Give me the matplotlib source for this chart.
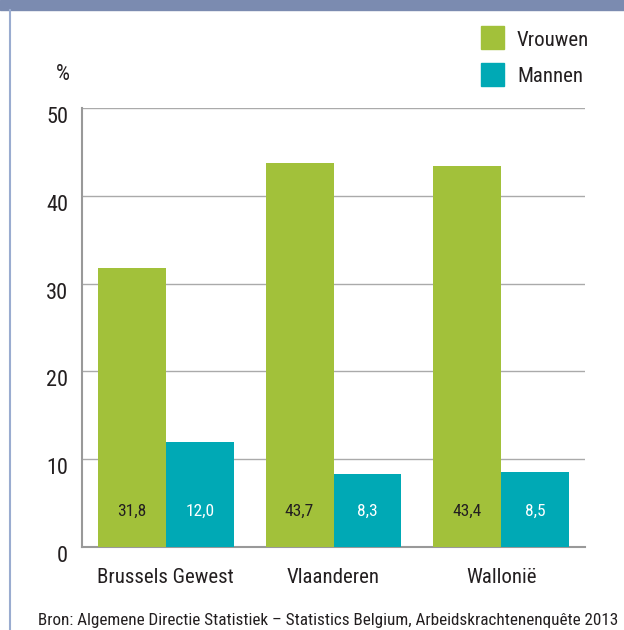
import matplotlib.pyplot as plt
import matplotlib.patches as mpatches
import matplotlib.transforms as mtransforms
import numpy as np

plt.rcParams['font.family'] = ['Liberation Sans Narrow', 'Roboto Condensed', 'Open Sans Condensed',
                               'DejaVu Sans']
plt.rcParams['font.stretch'] = 'condensed'

# data
regions = ["Brussels Gewest", "Vlaanderen", "Wallonië"]
vrouwen = [31.8, 43.7, 43.4]
mannen = [12.0, 8.3, 8.5]
yticks = [0, 10, 20, 30, 40, 50]

GREEN = "#A2C13A"
TEAL = "#00A9B5"
TXT = "#231F20"
W, H = 624, 630

fig = plt.figure(figsize=(W / 100, H / 100), dpi=100)

# page frame: banner on top, thin line on the left
fig.patches.append(mpatches.Rectangle((0, 1 - 10 / H), 1, 10 / H, transform=fig.transFigure,
                                      color="#7B8BB0", zorder=0))
fig.add_artist(plt.Line2D([10 / W, 10 / W], [0, 1 - 10 / H], transform=fig.transFigure,
                          color="#9AACD0", lw=1.5))

ax = fig.add_axes([82 / W, (H - 547) / H, (585 - 82) / W, (547 - 108) / H])
x = np.arange(len(regions))
bw = 0.405
ax.bar(x - bw / 2, vrouwen, bw, color=GREEN, zorder=3)
ax.bar(x + bw / 2, mannen, bw, color=TEAL, zorder=3)

for i in range(len(regions)):
    ax.text(x[i] - bw / 2, 4.1, f"{vrouwen[i]:.1f}".replace(".", ","), ha='center', va='center',
            fontsize=12.5, color=TXT, zorder=4)
    ax.text(x[i] + bw / 2, 4.1, f"{mannen[i]:.1f}".replace(".", ","), ha='center', va='center',
            fontsize=12.5, color="white", zorder=4)

ax.set_xlim(-0.5, 2.5)
ax.set_ylim(0, 50)
ax.set_yticks(yticks)
ax.set_yticklabels([str(t) for t in yticks], fontsize=16, color=TXT)
ax.set_xticks(x)
ax.set_xticklabels(regions, fontsize=15, color=TXT)
ax.tick_params(axis='y', length=0, pad=10)
ax.tick_params(axis='x', length=0, pad=15)
shift = mtransforms.ScaledTranslation(0, -7 / 100, fig.dpi_scale_trans)
for lab in ax.get_yticklabels():
    lab.set_transform(lab.get_transform() + shift)
ax.grid(True, axis='y', color="#AAAAAA", lw=1, zorder=0)
for s in ['top', 'right']:
    ax.spines[s].set_visible(False)
for s in ['left', 'bottom']:
    ax.spines[s].set_color("#999999")
    ax.spines[s].set_linewidth(1.5)

fig.text(56 / W, 1 - 75 / H, "%", fontsize=16, color=TXT, ha='left', va='center')

# legend
for j, (lab, col) in enumerate([("Vrouwen", GREEN), ("Mannen", TEAL)]):
    yc = 37.5 + j * 37
    fig.patches.append(mpatches.Rectangle((481 / W, 1 - (yc + 11.5) / H), 23 / W, 23 / H,
                                          transform=fig.transFigure, color=col))
    fig.text(517 / W, 1 - (yc + 2.5) / H, lab, fontsize=15, color=TXT, ha='left', va='center')

fig.text(38 / W, 1 - 621 / H,
         "Bron: Algemene Directie Statistiek – Statistics Belgium, Arbeidskrachtenenquête 2013",
         fontsize=12.3, color=TXT, ha='left', va='center')

fig.savefig("out.png", dpi=100)
